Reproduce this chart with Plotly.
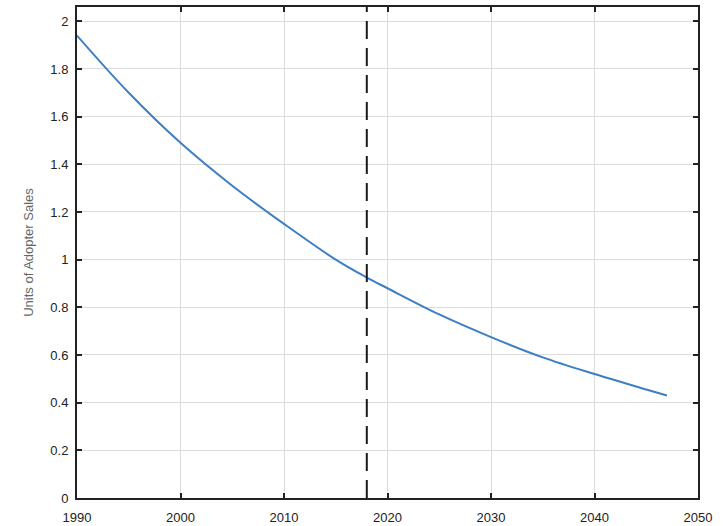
import plotly.graph_objects as go

# Adopter sales trajectory (units), read at selected years
years = [1990, 1995, 2000, 2005, 2010, 2015, 2018, 2020, 2025, 2030, 2035, 2040, 2045, 2047]
sales = [1.94, 1.70, 1.49, 1.31, 1.15, 1.00, 0.925, 0.88, 0.77, 0.675, 0.59, 0.52, 0.455, 0.43]

# Reference year marker
marker_year = 2018

x_ticks = [1990, 2000, 2010, 2020, 2030, 2040, 2050]
y_ticks = [0, 0.2, 0.4, 0.6, 0.8, 1, 1.2, 1.4, 1.6, 1.8, 2]
y_tick_text = ["0", "0.2", "0.4", "0.6", "0.8", "1", "1.2", "1.4", "1.6", "1.8", "2"]
y_max = 2.06

fig = go.Figure()
fig.add_trace(go.Scatter(
    x=years, y=sales, mode="lines", line=dict(color="#3d7fc4", width=2, shape="spline"),
    showlegend=False, hoverinfo="skip"))
fig.add_trace(go.Scatter(
    x=[marker_year, marker_year], y=[0, y_max], mode="lines",
    line=dict(color="#1a1a1a", width=2, dash="18px,9px"),
    showlegend=False, hoverinfo="skip"))

axis_common = dict(
    showgrid=True, gridcolor="#dcdcdc", gridwidth=1,
    showline=True, linecolor="#222222", linewidth=2, mirror="ticks",
    ticks="inside", ticklen=5, tickwidth=1.5, tickcolor="#222222",
    zeroline=False, automargin=False,
    tickfont=dict(family="Liberation Sans, Arial", size=13, color="#222222"),
)

fig.update_layout(
    width=724, height=526,
    margin=dict(l=77, r=26, t=7, b=28),
    paper_bgcolor="white", plot_bgcolor="white",
    xaxis=dict(range=[1990, 2050], tickvals=x_ticks, ticklabelstandoff=6, **axis_common),
    yaxis=dict(range=[0, y_max], tickvals=y_ticks, ticktext=y_tick_text,
               ticklabelstandoff=4,
               title=dict(text="Units of Adopter Sales", standoff=14,
                          font=dict(family="Liberation Sans, Arial", size=13, color="#666666")),
               **axis_common),
)

fig.write_html("out.html")
